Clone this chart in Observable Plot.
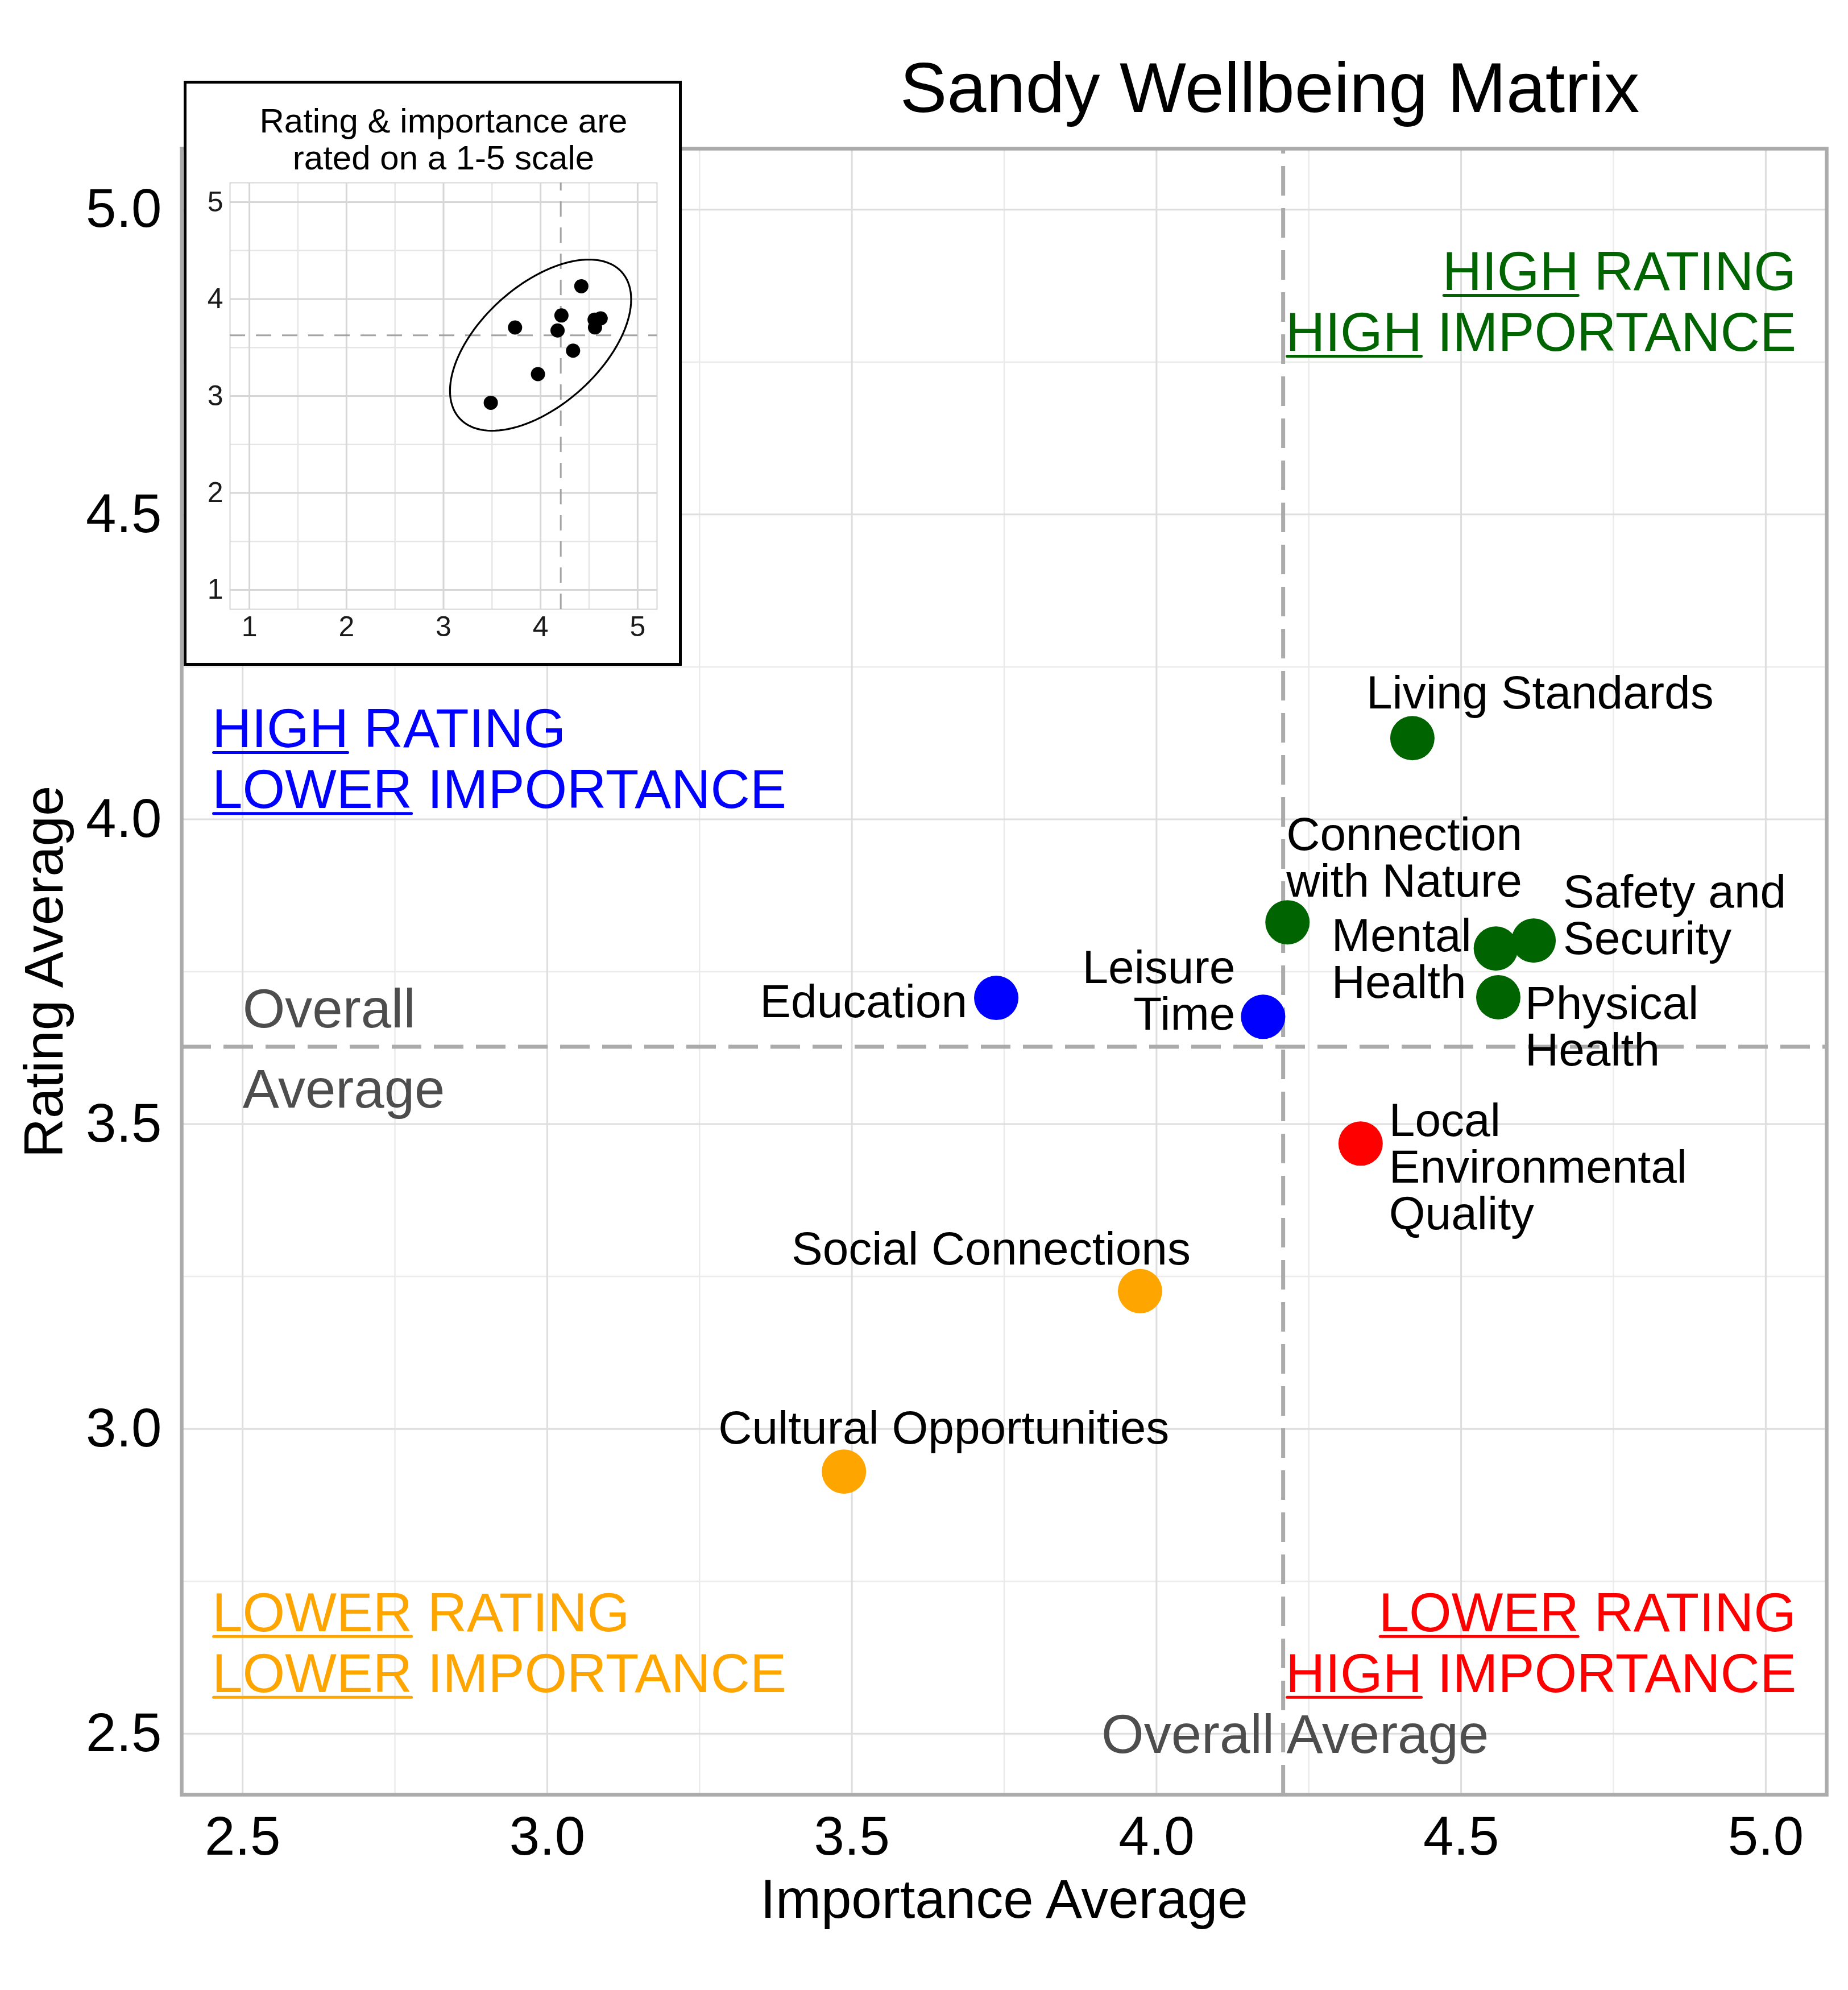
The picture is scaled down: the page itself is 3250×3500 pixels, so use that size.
<!DOCTYPE html>
<html>
<head>
<meta charset="utf-8">
<script src="https://cdn.jsdelivr.net/npm/d3@7"></script>
<script src="https://cdn.jsdelivr.net/npm/@observablehq/plot@0.6"></script>
<style>
  html, body { margin: 0; padding: 0; background: #fff; overflow: hidden; }
  #wrap { position: relative; width: 3250px; height: 3500px; font-family: "Liberation Sans", Arial, sans-serif; }
  #main svg { display: block; }
  #title { position: absolute; left: 1233px; width: 2000px; top: 92px; text-align: center;
           font-size: 124px; line-height: 124px; color: #000; white-space: nowrap; }
  #inset { position: absolute; left: 323px; top: 142px; width: 876px; height: 1029px;
           border: 5px solid #000; box-sizing: border-box; background: #fff; }
  #inset svg { display: block; }
</style>
</head>
<body>
<div id="wrap">
  <div id="main"></div>
  <div id="title">Sandy Wellbeing Matrix</div>
  <div id="inset"></div>
</div>
<script>
// ---------------- data ----------------
const categories = [
  "Living Standards", "Connection with Nature", "Mental Health", "Safety and Security",
  "Physical Health", "Local Environmental Quality", "Leisure Time", "Education",
  "Social Connections", "Cultural Opportunities"
];
const importance = [4.42, 4.215, 4.557, 4.619, 4.561, 4.335, 4.175, 3.737, 3.973, 3.487];
const rating     = [4.133, 3.831, 3.788, 3.801, 3.708, 3.468, 3.676, 3.707, 3.226, 2.930];

const xTicks = [2.5, 3.0, 3.5, 4.0, 4.5, 5.0];
const yTicks = [2.5, 3.0, 3.5, 4.0, 4.5, 5.0];
const xMinorTicks = [2.75, 3.25, 3.75, 4.25, 4.75];
const yMinorTicks = [2.75, 3.25, 3.75, 4.25, 4.75];

const quadrantKeys  = ["hh", "hl", "ll", "lh"];
const quadrantText  = ["HIGH RATING\nHIGH IMPORTANCE", "HIGH RATING\nLOWER IMPORTANCE",
                       "LOWER RATING\nLOWER IMPORTANCE", "LOWER RATING\nHIGH IMPORTANCE"];
const quadrantColors = ["#006400", "#0000FF", "#FFA500", "#FF0000"];

const insetTicks = [1, 2, 3, 4, 5];
const insetMinorTicks = [1.5, 2.5, 3.5, 4.5];
const insetTitle = "Rating & importance are\nrated on a 1-5 scale";
// data ellipse of the inset (centre and shape matrix)
const ellipseCenter = [4.0, 3.525];
const ellipseShape = [[0.871, 0.44], [0.44, 0.78]];

// ---------------- layout (not data) ----------------
const FONT = "Liberation Sans, Arial, sans-serif";
const quadrantLayout = {
  hh: {x: 5.05, y: 4.85, anchor: "end"},
  hl: {x: 2.45, y: 4.10, anchor: "start"},
  ll: {x: 2.45, y: 2.65, anchor: "start"},
  lh: {x: 5.05, y: 2.65, anchor: "end"}
};
const labelLayout = [
  {name: "Living Standards", text: "Living Standards", anchor: "start", dx: -81, dy: -79},
  {name: "Connection with Nature", text: "Connection\nwith Nature", anchor: "start", dx: -2, dy: -112},
  {name: "Safety and Security", text: "Safety and\nSecurity", anchor: "start", dx: 52, dy: -44},
  {name: "Mental Health", text: "Mental\nHealth", anchor: "start", dx: -289, dy: 19},
  {name: "Physical Health", text: "Physical\nHealth", anchor: "start", dx: 47, dy: 53},
  {name: "Local Environmental Quality", text: "Local\nEnvironmental\nQuality", anchor: "start", dx: 50, dy: 42},
  {name: "Leisure Time", text: "Leisure\nTime", anchor: "end", dx: -49, dy: -45},
  {name: "Education", text: "Education", anchor: "end", dx: -51, dy: 8},
  {name: "Social Connections", text: "Social Connections", anchor: "end", dx: 89, dy: -73},
  {name: "Cultural Opportunities", text: "Cultural Opportunities", anchor: "start", dx: -221, dy: -75}
];

// ---------------- derived ----------------
const data = categories.map((name, i) => ({name, importance: importance[i], rating: rating[i]}));
const meanX = d3.mean(importance);
const meanY = d3.mean(rating);
const quadrantOf = d => d.importance >= meanX
  ? (d.rating >= meanY ? "hh" : "lh")
  : (d.rating >= meanY ? "hl" : "ll");
const quadrants = quadrantKeys.map((k, i) => ({key: k, text: quadrantText[i], ...quadrantLayout[k]}));

const xDomain = [2.4, 5.1], yDomain = [2.4, 5.1];
const fmt = d3.format(".1f");

const main = Plot.plot({
  width: 3250, height: 3500,
  marginLeft: 319, marginRight: 38, marginTop: 261, marginBottom: 344,
  x: {domain: xDomain},
  y: {domain: yDomain},
  color: {domain: quadrantKeys, range: quadrantColors},
  style: {fontFamily: FONT, background: "transparent", overflow: "visible"},
  marks: [
    Plot.ruleX(xMinorTicks, {stroke: "#EBEBEB", strokeWidth: 2.5}),
    Plot.ruleY(yMinorTicks, {stroke: "#EBEBEB", strokeWidth: 2.5}),
    Plot.ruleX(xTicks, {stroke: "#DEDEDE", strokeWidth: 3}),
    Plot.ruleY(yTicks, {stroke: "#DEDEDE", strokeWidth: 3}),
    Plot.ruleX([meanX], {y1: yDomain[0], y2: yDomain[1], stroke: "#ABABAB", strokeWidth: 7, strokeDasharray: "52,22"}),
    Plot.ruleY([meanY], {x1: xDomain[0], x2: xDomain[1], stroke: "#ABABAB", strokeWidth: 7, strokeDasharray: "52,22"}),
    // quadrant annotations
    Plot.text(quadrants.filter(q => q.anchor === "start"), {
      x: "x", y: "y", text: "text", fill: "key", textAnchor: "start", lineAnchor: "middle",
      fontSize: 96, lineHeight: 1.115
    }),
    Plot.text(quadrants.filter(q => q.anchor === "end"), {
      x: "x", y: "y", text: "text", fill: "key", textAnchor: "end", lineAnchor: "middle",
      fontSize: 96, lineHeight: 1.115
    }),
    // overall average annotations
    Plot.text(["Overall"], {x: 2.5, y: meanY, textAnchor: "start", lineAnchor: "bottom", dy: -34, fontSize: 96, fill: "#4D4D4D"}),
    Plot.text(["Average"], {x: 2.5, y: meanY, textAnchor: "start", lineAnchor: "bottom", dy: 107, fontSize: 96, fill: "#4D4D4D"}),
    Plot.text(["Overall Average"], {x: meanX, y: 2.5, textAnchor: "middle", lineAnchor: "middle", dx: 21, dy: 3, fontSize: 96, fill: "#4D4D4D"}),
    // points
    Plot.dot(data, {x: "importance", y: "rating", r: 39, fill: quadrantOf, stroke: "none"}),
    // point labels
    ...labelLayout.map(l => Plot.text(data.filter(d => d.name === l.name), {
      x: "importance", y: "rating", text: () => l.text, textAnchor: l.anchor, lineAnchor: "middle",
      dx: l.dx, dy: l.dy, fontSize: 82, lineHeight: 1.0, fill: "black"
    })),
    Plot.frame({stroke: "#ABABAB", strokeWidth: 6.5}),
    Plot.axisX(xTicks, {tickSize: 0, tickPadding: 37, tickFormat: fmt, fontSize: 96, label: null, fill: "black"}),
    Plot.axisY(yTicks, {tickSize: 0, tickPadding: 35, tickFormat: fmt, fontSize: 96, label: null, fill: "black"}),
    Plot.text(["Importance Average"], {frameAnchor: "bottom", textAnchor: "middle", lineAnchor: "bottom", dy: 216, fontSize: 96, fill: "black"}),
    Plot.text(["Rating Average"], {frameAnchor: "left", textAnchor: "middle", lineAnchor: "bottom", rotate: -90, dx: -210, fontSize: 96, fill: "black"})
  ]
});
document.getElementById("main").appendChild(main);

// underline the first word of each quadrant line (split into tspans, keep real text)
const SVGNS = "http://www.w3.org/2000/svg";
const quadFlat = new Set(quadrantText.map(t => t.replace("\n", "")));
const underlineTargets = [];
main.querySelectorAll("text").forEach(text => {
  if (!quadFlat.has(text.textContent)) return;
  const lines = Array.from(text.children).filter(c => c.tagName.toLowerCase() === "tspan");
  for (const el of lines) {
    const s = el.textContent;
    const k = s.indexOf(" ");
    el.textContent = "";
    const a = document.createElementNS(SVGNS, "tspan");
    a.textContent = s.slice(0, k);
    const b = document.createElementNS(SVGNS, "tspan");
    b.textContent = s.slice(k);
    el.appendChild(a);
    el.appendChild(b);
    underlineTargets.push({text, word: a});
  }
});
// draw the underline under each first word, measured from the rendered glyphs
for (const {text, word} of underlineTargets) {
  const bb = word.getBBox();
  const fill = text.getAttribute("fill") || getComputedStyle(text).fill;
  const ctm = word.getCTM();
  const m = main.getScreenCTM().inverse().multiply(word.getScreenCTM());
  const p1 = new DOMPoint(bb.x, 0).matrixTransform(m);
  const p2 = new DOMPoint(bb.x + bb.width, 0).matrixTransform(m);
  // baseline: bbox bottom minus descent (~0.212em); underline ~8px below baseline
  const fs = 96;
  const base = new DOMPoint(0, bb.y + bb.height - 0.212 * fs).matrixTransform(m);
  const line = document.createElementNS(SVGNS, "line");
  line.setAttribute("x1", p1.x + 2);
  line.setAttribute("x2", p2.x - 2);
  line.setAttribute("y1", base.y + 9);
  line.setAttribute("y2", base.y + 9);
  line.setAttribute("stroke", fill);
  line.setAttribute("stroke-width", 5);
  line.setAttribute("stroke-linecap", "round");
  text.parentNode.appendChild(line);
}

// ---------------- inset ----------------
const R11 = Math.sqrt(ellipseShape[0][0]);
const R12 = ellipseShape[0][1] / R11;
const R22 = Math.sqrt(ellipseShape[1][1] - R12 * R12);
const ellipsePts = d3.range(0, 121).map(i => {
  const t = i / 120 * 2 * Math.PI;
  return {x: ellipseCenter[0] + Math.cos(t) * R11, y: ellipseCenter[1] + Math.cos(t) * R12 + Math.sin(t) * R22};
});
const inDomain = [0.8, 5.2];
const inset = Plot.plot({
  width: 866, height: 1019,
  marginLeft: 76, marginRight: 39, marginTop: 174, marginBottom: 95,
  x: {domain: inDomain},
  y: {domain: inDomain},
  style: {fontFamily: FONT, background: "white", overflow: "visible"},
  marks: [
    Plot.ruleX(insetMinorTicks, {stroke: "#E6E6E6", strokeWidth: 2.5}),
    Plot.ruleY(insetMinorTicks, {stroke: "#E6E6E6", strokeWidth: 2.5}),
    Plot.ruleX(insetTicks, {stroke: "#D6D6D6", strokeWidth: 3}),
    Plot.ruleY(insetTicks, {stroke: "#D6D6D6", strokeWidth: 3}),
    Plot.frame({stroke: "#D6D6D6", strokeWidth: 2}),
    Plot.ruleX([meanX], {y1: inDomain[0], y2: inDomain[1], stroke: "#A3A3A3", strokeWidth: 3, strokeDasharray: "27,19"}),
    Plot.ruleY([meanY], {x1: inDomain[0], x2: inDomain[1], stroke: "#A3A3A3", strokeWidth: 3, strokeDasharray: "27,19"}),
    Plot.line(ellipsePts, {x: "x", y: "y", stroke: "black", strokeWidth: 3.2}),
    Plot.dot(data, {x: "importance", y: "rating", r: 12.5, fill: "black", stroke: "none"}),
    Plot.axisX(insetTicks, {tickSize: 0, tickPadding: 12, tickFormat: d3.format("d"), fontSize: 50, label: null, fill: "#1A1A1A"}),
    Plot.axisY(insetTicks, {tickSize: 0, tickPadding: 12, tickFormat: d3.format("d"), fontSize: 50, label: null, fill: "#1A1A1A"}),
    Plot.text([insetTitle], {frameAnchor: "top", textAnchor: "middle", lineAnchor: "bottom", dy: -24, fontSize: 60, lineHeight: 1.07, fill: "black"})
  ]
});
document.getElementById("inset").appendChild(inset);
</script>
</body>
</html>
